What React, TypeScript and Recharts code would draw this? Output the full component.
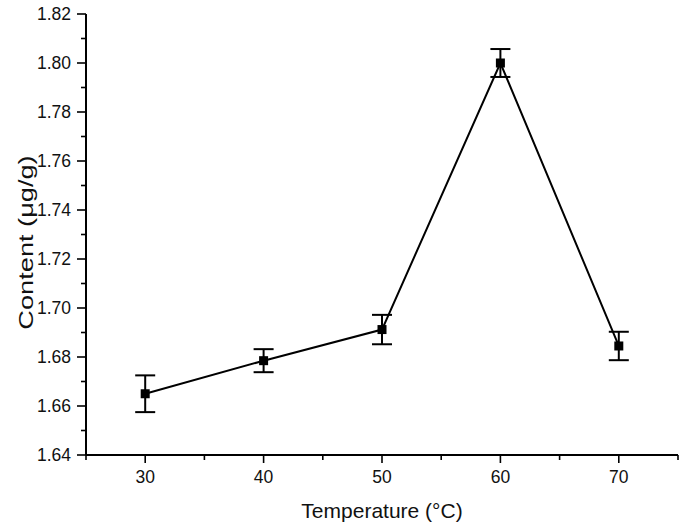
import React from "react";
import { LineChart, Line, XAxis, YAxis, ErrorBar } from "recharts";

const temperatures = [30, 40, 50, 60, 70];
const content = [1.665, 1.6785, 1.6912, 1.8, 1.6845];
const contentError = [0.0075, 0.0047, 0.006, 0.0057, 0.0058];

const xTicks = [25, 30, 35, 40, 45, 50, 55, 60, 65, 70, 75];
const yTicks = [
  1.64, 1.65, 1.66, 1.67, 1.68, 1.69, 1.7, 1.71, 1.72, 1.73, 1.74, 1.75, 1.76,
  1.77, 1.78, 1.79, 1.8, 1.81, 1.82,
];

const data = temperatures.map((t, i) => ({
  temp: t,
  content: content[i],
  err: contentError[i],
}));

const FONT = "'Liberation Sans', Arial, sans-serif";

function XTick(props: any) {
  const { x, y, payload } = props;
  const major = Math.round(payload.value) % 10 === 0;
  return (
    <g>
      <line x1={x} x2={x} y1={y} y2={y + (major ? 8 : 5)} stroke="#000" strokeWidth={1.6} />
      {major && (
        <text x={x} y={y + 28} textAnchor="middle" fontSize={17.5} fontFamily={FONT} fill="#111">
          {payload.value}
        </text>
      )}
    </g>
  );
}

function YTick(props: any) {
  const { x, y, payload } = props;
  const major = Math.round(payload.value * 100) % 2 === 0;
  return (
    <g>
      <line x1={x} x2={x - (major ? 9 : 5)} y1={y} y2={y} stroke="#000" strokeWidth={1.6} />
      {major && (
        <text x={x - 15} y={y + 6} textAnchor="end" fontSize={17.5} fontFamily={FONT} fill="#111">
          {payload.value.toFixed(2)}
        </text>
      )}
    </g>
  );
}

function SquareDot(props: any) {
  const { cx, cy } = props;
  if (cx == null || cy == null) return null;
  return <rect x={cx - 4.5} y={cy - 4.5} width={9} height={9} fill="#000" />;
}

export default function App() {
  return (
    <div style={{ position: "absolute", left: 0, top: 0, background: "#fff" }}>
      <LineChart
        width={685}
        height={524}
        data={data}
        margin={{ top: 14, right: 7, left: 0, bottom: 9 }}
      >
        <XAxis
          dataKey="temp"
          type="number"
          domain={[25, 75]}
          ticks={xTicks}
          interval={0}
          tickSize={0}
          tickMargin={0}
          tickLine={false}
          tick={<XTick />}
          height={60}
          axisLine={{ stroke: "#000", strokeWidth: 2 }}
          label={(p: any) => {
            const vb = p.viewBox;
            return (
              <text
                x={vb.x + vb.width / 2}
                y={vb.y + 63}
                textAnchor="middle"
                fontSize={21}
                fontFamily={FONT}
                fill="#111"
              >
                Temperature (°C)
              </text>
            );
          }}
        />
        <YAxis
          type="number"
          domain={[1.64, 1.82]}
          ticks={yTicks}
          interval={0}
          width={86}
          tickSize={0}
          tickMargin={0}
          tickLine={false}
          tick={<YTick />}
          axisLine={{ stroke: "#000", strokeWidth: 2 }}
          label={(p: any) => {
            const vb = p.viewBox;
            const cx = vb.x + 33;
            const cy = vb.y + vb.height / 2 + 8;
            // the source image is stretched vertically, so the label is too
            return (
              <text
                x={0}
                y={0}
                transform={`translate(${cx} ${cy}) rotate(-90) scale(1.36 1)`}
                textAnchor="middle"
                fontSize={20}
                fontFamily={FONT}
                fill="#111"
              >
                Content (μg/g)
              </text>
            );
          }}
        />
        <Line
          type="linear"
          dataKey="content"
          stroke="#000"
          strokeWidth={2}
          dot={<SquareDot />}
          activeDot={false}
          isAnimationActive={false}
        >
          <ErrorBar dataKey="err" direction="y" width={10} stroke="#000" strokeWidth={2} />
        </Line>
      </LineChart>
    </div>
  );
}
